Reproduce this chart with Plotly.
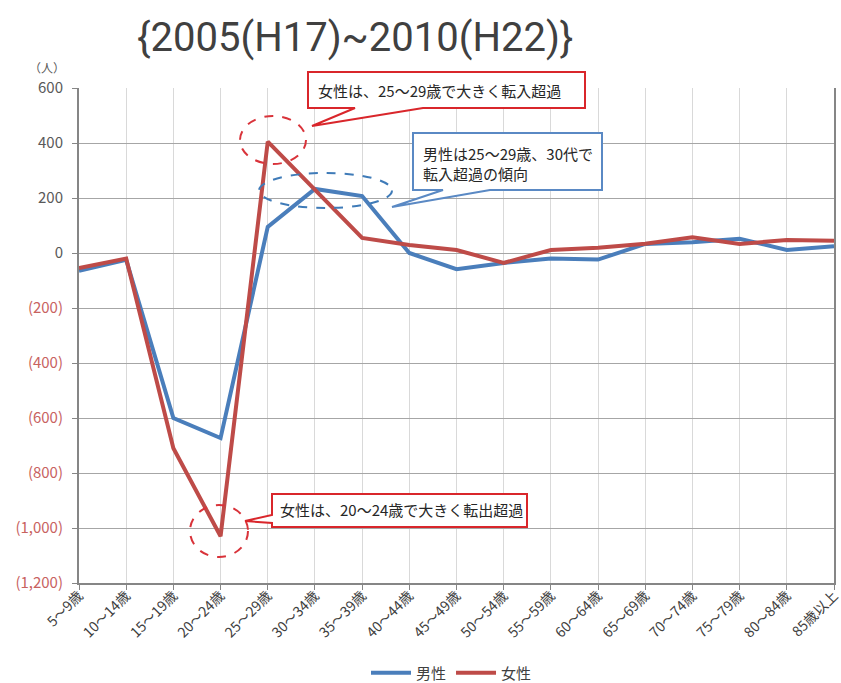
import plotly.graph_objects as go

categories = ["5～9歳", "10～14歳", "15～19歳", "20～24歳", "25～29歳", "30～34歳",
              "35～39歳", "40～44歳", "45～49歳", "50～54歳", "55～59歳", "60～64歳",
              "65～69歳", "70～74歳", "75～79歳", "80～84歳", "85歳以上"]
male = [-65, -25, -600, -673, 95, 233, 207, 0, -59, -36, -20, -24, 33, 39, 52, 11, 25]
female = [-55, -20, -710, -1030, 405, 232, 55, 29, 11, -36, 11, 19, 34, 57, 33, 47, 45]

y_ticks = [600, 400, 200, 0, -200, -400, -600, -800, -1000, -1200]
y_ticklabels = ["600", "400", "200", "0", "(200)", "(400)", "(600)", "(800)", "(1,000)", "(1,200)"]

title_text = "{2005(H17)~2010(H22)}"
unit_text = "（人）"
note_f_in = "女性は、25～29歳で大きく転入超過"
note_m_in = "男性は25～29歳、30代で<br>転入超過の傾向"
note_f_out = "女性は、20～24歳で大きく転出超過"

W, H = 841, 683
L, R, T, B = 79, 834, 88, 583

def px(x):
    return (x - L) / (R - L)

def py(y):
    return (B - y) / (B - T)

def path(pts):
    return "M " + " L ".join(f"{px(x):.5f},{py(y):.5f}" for x, y in pts) + " Z"

BLUE = "#4a7ebb"
RED = "#be4b48"
FONT = "Noto Sans CJK JP"

tick_text = []
for v, t in zip(y_ticks, y_ticklabels):
    if v < 0:
        tick_text.append(f"<span style='color:#c8625f'>{t}</span>")
    else:
        tick_text.append(t)

fig = go.Figure()
fig.add_trace(go.Scatter(x=categories, y=male, mode="lines", name="男性",
                         line=dict(color=BLUE, width=4)))
fig.add_trace(go.Scatter(x=categories, y=female, mode="lines", name="女性",
                         line=dict(color=RED, width=4)))

shapes = []
# ellipses
shapes.append(dict(type="circle", xref="paper", yref="paper",
                   x0=px(240), x1=px(306), y0=py(164), y1=py(116),
                   line=dict(color="#d9333a", width=2, dash="dash")))
shapes.append(dict(type="circle", xref="paper", yref="paper",
                   x0=px(259), x1=px(392), y0=py(208), y1=py(173),
                   line=dict(color="#3f7bb8", width=2, dash="dash")))
shapes.append(dict(type="circle", xref="paper", yref="paper",
                   x0=px(190), x1=px(248), y0=py(557), y1=py(505),
                   line=dict(color="#d9333a", width=2, dash="dash")))
# callouts
shapes.append(dict(type="path", xref="paper", yref="paper",
                   path=path([(308, 72), (585, 72), (585, 108), (423, 108), (312, 126), (355, 108), (308, 108)]),
                   fillcolor="white", line=dict(color="#d9262b", width=2)))
shapes.append(dict(type="path", xref="paper", yref="paper",
                   path=path([(413, 133), (602, 133), (602, 190), (490, 190), (392, 207), (443, 190), (413, 190)]),
                   fillcolor="white", line=dict(color="#5a89c4", width=2)))
shapes.append(dict(type="path", xref="paper", yref="paper",
                   path=path([(272, 494), (527, 494), (527, 527), (272, 527), (272, 523), (245, 521), (272, 515)]),
                   fillcolor="white", line=dict(color="#d9262b", width=2)))

annotations = [
    dict(text=title_text, xref="paper", yref="paper", x=px(355), y=py(37),
         xanchor="center", yanchor="middle", showarrow=False,
         font=dict(family="Roboto", size=40, color="#404040")),
    dict(text=unit_text, xref="paper", yref="paper", x=px(47), y=py(68),
         xanchor="center", yanchor="middle", showarrow=False,
         font=dict(family=FONT, size=12, color="#595959")),
    dict(text=note_f_in, xref="paper", yref="paper", x=px(316), y=py(90),
         xanchor="left", yanchor="middle", showarrow=False,
         font=dict(family=FONT, size=15, color="#262626")),
    dict(text=note_m_in, xref="paper", yref="paper", x=px(421), y=py(163),
         xanchor="left", yanchor="middle", showarrow=False, align="left",
         font=dict(family=FONT, size=15, color="#262626")),
    dict(text=note_f_out, xref="paper", yref="paper", x=px(278), y=py(510),
         xanchor="left", yanchor="middle", showarrow=False,
         font=dict(family=FONT, size=15, color="#262626")),
]

fig.update_layout(
    width=W, height=H,
    margin=dict(l=L, r=W - R, t=T, b=H - B, pad=0, autoexpand=False),
    paper_bgcolor="white", plot_bgcolor="white",
    font=dict(family=FONT, size=13, color="#595959"),
    showlegend=True,
    legend=dict(orientation="h", xref="container", yref="container",
                x=(363 + 540) / 2 / W, xanchor="center",
                y=1 - 673 / H, yanchor="middle", font=dict(size=15, color="#404040"),
                itemwidth=40, tracegroupgap=0),
    shapes=shapes,
    annotations=annotations,
    xaxis=dict(type="category", range=[0, len(categories) - 1],
               showgrid=True, gridcolor="#d9d9d9", gridwidth=1,
               showline=True, linecolor="#868686", linewidth=2,
               ticks="outside", ticklen=5, tickcolor="#868686",
               ticklabelstandoff=-8,
               tickangle=-45, tickfont=dict(size=14, color="#404040"),
               zeroline=False, fixedrange=True, automargin=False),
    yaxis=dict(range=[-1200, 600], tickvals=y_ticks, ticktext=tick_text,
               showgrid=True, gridcolor="#a6a6a6", gridwidth=1,
               showline=True, linecolor="#868686", linewidth=2, mirror=True,
               ticks="outside", ticklen=5, tickcolor="#868686",
               ticklabelstandoff=6,
               tickfont=dict(size=15, color="#595959"),
               zeroline=False, fixedrange=True, automargin=False),
)

fig.write_html("out.html", config={"displayModeBar": False},
               post_script="document.body.style.margin='0';")
